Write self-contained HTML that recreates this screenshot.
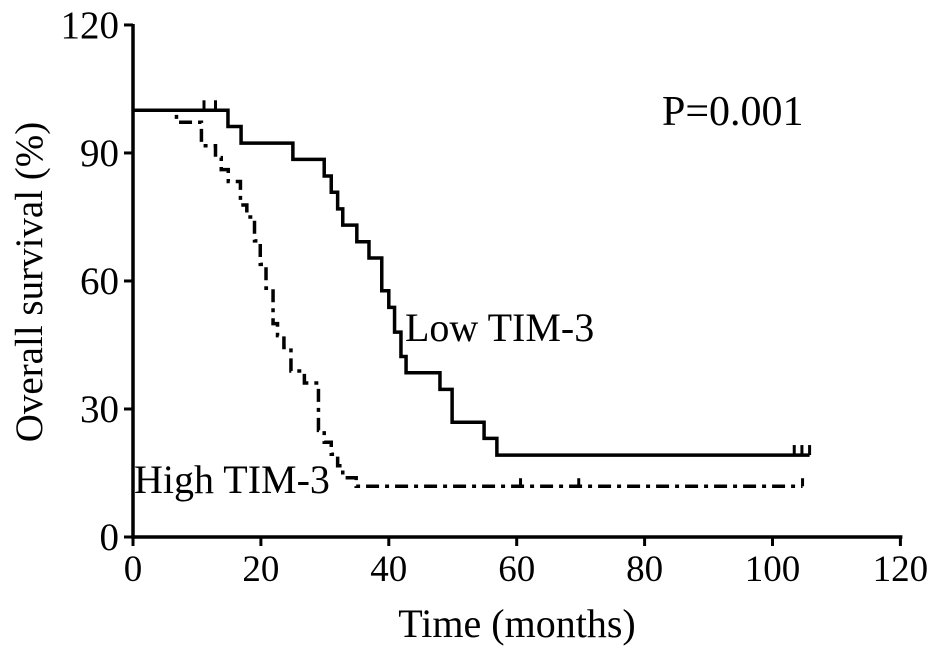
<!DOCTYPE html>
<html><head><meta charset="utf-8"><style>
body{margin:0;background:#fff;}
svg{display:block;font-family:"Liberation Serif",serif;}
</style></head><body>
<svg id="chart" width="945" height="659" viewBox="0 0 945 659">
<g id="axes"></g>
<g id="series"></g>
<text x="662" y="125" font-size="42">P=0.001</text>
<text x="405" y="341" font-size="40">Low TIM-3</text>
<text x="134" y="493" font-size="40">High TIM-3</text>
<text x="517" y="637" font-size="40" text-anchor="middle">Time (months)</text>
<text transform="translate(42,282) rotate(-90)" font-size="39" text-anchor="middle">Overall survival (%)</text>
</svg>
<script>
const xTicks=[0,20,40,60,80,100,120];
const yTicks=[0,30,60,90,120];
const lowTimes=[0,14.85,16.9,25.0,29.9,31.0,32.0,32.8,35.0,36.9,38.9,40.0,40.9,41.9,42.7,48.0,49.9,54.9,56.9,105.8];
const lowSurv=[100,96.2,92.3,88.5,84.6,80.8,76.9,73.1,69.2,65.4,57.7,53.8,48.0,42.3,38.5,34.6,26.9,23.1,19.2,19.2];
const lowCensor=[11.1,12.9,103.4,104.6,105.8];
const highTimes=[0,6.8,10.7,12.9,13.8,14.9,16.8,17.8,19.0,19.9,20.8,21.9,22.6,23.6,24.7,26.8,29.0,29.9,31.0,32.0,32.8,34.9,104.7];
const highSurv=[100,97.2,91.7,88.9,86.1,83.3,77.8,75.0,69.4,63.9,58.3,50.0,47.2,44.4,38.9,36.1,25.0,22.2,19.4,16.7,13.9,11.9,11.9];
const highCensor=[60.6,69.7,104.7];
const NS="http://www.w3.org/2000/svg";
const X=v=>133+v*6.395;
const Y=v=>537-v*4.267;
function mk(tag,attrs,parent){const e=document.createElementNS(NS,tag);for(const k in attrs)e.setAttribute(k,attrs[k]);parent.appendChild(e);return e;}
const ax=document.getElementById('axes');
let l=mk('line',{x1:X(0),y1:Y(0),x2:X(120)+2,y2:Y(0),stroke:'#000','stroke-width':3.5},ax);


l=mk('line',{x1:X(0),y1:Y(120)-1,x2:X(0),y2:Y(0)+2,stroke:'#000','stroke-width':3.5},ax);


xTicks.forEach(t=>{
 const tk=mk('line',{x1:X(t),y1:Y(0),x2:X(t),y2:Y(0)+9,stroke:'#000','stroke-width':3},ax);
 
 
 const tx=mk('text',{x:X(t),y:Y(0)+44,'font-size':37,'text-anchor':'middle'},ax);
 tx.textContent=t;
 
 
});
yTicks.forEach(t=>{
 const tk=mk('line',{x1:X(0)-9,y1:Y(t),x2:X(0),y2:Y(t),stroke:'#000','stroke-width':3},ax);
 
 
 const tx=mk('text',{x:X(0)-14,y:Y(t)+13,'font-size':39,'text-anchor':'end'},ax);
 tx.textContent=t;
 
 
});
const sg=document.getElementById('series');
function stepPath(ts,ss){let d='M'+X(ts[0])+' '+Y(ss[0]);for(let i=1;i<ts.length;i++){d+=' H'+X(ts[i])+' V'+Y(ss[i]);}return d;}
function survAt(ts,ss,t){let s=ss[0];for(let i=0;i<ts.length;i++){if(ts[i]<=t)s=ss[i];}return s;}
let p=mk('path',{d:stepPath(lowTimes,lowSurv),fill:'none',stroke:'#000','stroke-width':3.5},sg);


lowCensor.forEach(t=>{const s=survAt(lowTimes,lowSurv,t);
 const c=mk('line',{x1:X(t),y1:Y(s),x2:X(t),y2:Y(s)-10,stroke:'#000','stroke-width':3},sg);
 
 });
p=mk('path',{d:stepPath(highTimes,highSurv),fill:'none',stroke:'#000','stroke-width':3.5,'stroke-dasharray':'13 6 4 6'},sg);


highCensor.forEach(t=>{const s=survAt(highTimes,highSurv,t);
 const c=mk('line',{x1:X(t),y1:Y(s),x2:X(t),y2:Y(s)-8,stroke:'#000','stroke-width':3},sg);
 
 });
</script>
</body></html>
